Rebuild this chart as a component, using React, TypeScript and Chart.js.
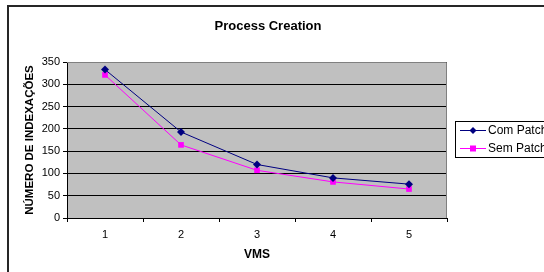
import React, { useEffect, useRef } from "react";
import { Chart, registerables } from "chart.js";

Chart.register(...registerables);

const title = "Process Creation";
const categories = ["1", "2", "3", "4", "5"];
const comPatch = [333, 193, 120, 90, 76];
const semPatch = [321, 164, 107, 81, 65];
const seriesNames = ["Com Patch", "Sem Patch"];
const xTitle = "VMS";
const yTitle = "NÚMERO DE INDEXAÇÕES";
const yMin = 0;
const yMax = 350;
const yStep = 50;

const NAVY = "#000080";
const MAGENTA = "#FF00FF";
const FONT = "'Liberation Sans', Arial, sans-serif";

const decorPlugin = {
  id: "decor",
  beforeDraw(chart: any) {
    const { ctx, chartArea } = chart;
    ctx.save();
    ctx.fillStyle = "#ffffff";
    ctx.fillRect(0, 0, chart.width, chart.height);
    ctx.fillStyle = "#C0C0C0";
    ctx.fillRect(chartArea.left, chartArea.top, chartArea.right - chartArea.left, chartArea.bottom - chartArea.top);
    // outer frame
    ctx.strokeStyle = "#262626";
    ctx.lineWidth = 2;
    ctx.beginPath();
    ctx.moveTo(8, chart.height + 2);
    ctx.lineTo(8, 6);
    ctx.lineTo(chart.width + 2, 6);
    ctx.stroke();
    ctx.restore();
  },
  afterDatasetsDraw(chart: any) {
    const { ctx, chartArea } = chart;
    ctx.save();
    ctx.strokeStyle = "#808080";
    ctx.lineWidth = 1;
    ctx.beginPath();
    ctx.moveTo(chartArea.left, chartArea.top + 0.5);
    ctx.lineTo(chartArea.right - 0.5, chartArea.top + 0.5);
    ctx.lineTo(chartArea.right - 0.5, chartArea.bottom);
    ctx.stroke();
    ctx.restore();
  },
  afterDraw(chart: any) {
    const { ctx } = chart;
    ctx.save();
    const bx = 455.5, by = 121.5, bw = 120, bh = 36;
    ctx.fillStyle = "#ffffff";
    ctx.fillRect(bx, by, bw, bh);
    ctx.strokeStyle = "#000";
    ctx.lineWidth = 1;
    ctx.strokeRect(bx, by, bw, bh);
    const colors = [NAVY, MAGENTA];
    const rows = [130.5, 148.5];
    seriesNames.forEach((name, i) => {
      const y = rows[i];
      ctx.strokeStyle = colors[i];
      ctx.lineWidth = 1;
      ctx.beginPath();
      ctx.moveTo(460, y);
      ctx.lineTo(486, y);
      ctx.stroke();
      ctx.fillStyle = colors[i];
      const cx = 473;
      if (i === 0) {
        ctx.beginPath();
        ctx.moveTo(cx, y - 3.5);
        ctx.lineTo(cx + 3.5, y);
        ctx.lineTo(cx, y + 3.5);
        ctx.lineTo(cx - 3.5, y);
        ctx.closePath();
        ctx.fill();
      } else {
        ctx.fillRect(cx - 3, y - 3, 6, 6);
      }
      ctx.fillStyle = "#000";
      ctx.font = "12px " + FONT;
      ctx.textBaseline = "middle";
      ctx.textAlign = "left";
      ctx.fillText(name, 488, y);
    });
    ctx.restore();
  },
};

export default function App() {
  const ref = useRef<HTMLCanvasElement | null>(null);
  useEffect(() => {
    if (!ref.current) return;
    const chart = new Chart(ref.current, {
      type: "line",
      data: {
        labels: categories,
        datasets: [
          {
            label: seriesNames[0],
            data: comPatch,
            borderColor: NAVY,
            backgroundColor: NAVY,
            borderWidth: 1,
            pointStyle: "rectRot",
            pointRadius: 4,
            pointBorderWidth: 0,
            tension: 0,
            yAxisID: "y",
          },
          {
            label: seriesNames[1],
            data: semPatch,
            borderColor: MAGENTA,
            backgroundColor: MAGENTA,
            borderWidth: 1,
            pointStyle: "rect",
            pointRadius: 4,
            pointBorderWidth: 0,
            tension: 0,
            yAxisID: "y",
          },
        ],
      },
      options: {
        responsive: false,
        animation: false,
        devicePixelRatio: 1,
        layout: { padding: { left: 0, right: 8, top: 0, bottom: 0 } },
        plugins: {
          legend: { display: false },
          tooltip: { enabled: false },
          title: {
            display: true,
            text: title,
            color: "#000",
            font: { family: FONT, size: 13, weight: "bold" },
            padding: { top: 19, bottom: 27.4 },
          },
        },
        scales: {
          x: {
            type: "category",
            offset: true,
            grid: {
              display: true,
              drawOnChartArea: false,
              drawTicks: true,
              tickLength: 4,
              color: "#000",
              offset: true,
            },
            border: { display: true, color: "#000", width: 1 },
            ticks: {
              color: "#000",
              font: { family: FONT, size: 11 },
              padding: 6,
              maxRotation: 0,
            },
            title: {
              display: true,
              text: xTitle,
              color: "#000",
              font: { family: FONT, size: 12, weight: "bold" },
              padding: { top: 0, bottom: 10 },
            },
            afterFit(scale: any) {
              scale.height = 54;
            },
          },
          y: {
            type: "linear",
            position: "left",
            min: yMin,
            max: yMax,
            grid: {
              color: "#000",
              tickLength: 4,
              drawTicks: true,
            },
            border: { display: true, color: "#000", width: 1 },
            ticks: {
              stepSize: yStep,
              color: "#000",
              font: { family: FONT, size: 11 },
              padding: 3,
            },
            title: {
              display: true,
              text: yTitle,
              color: "#000",
              font: { family: FONT, size: 11.5, weight: "bold" },
              padding: { top: 23, bottom: 0 },
            },
            afterFit(scale: any) {
              scale.width = 67;
            },
          },
          yR: {
            type: "linear",
            position: "right",
            display: true,
            grid: { display: false, drawTicks: false },
            border: { display: false },
            ticks: { display: false },
            afterFit(scale: any) {
              scale.width = 89;
            },
          },
        },
      },
      plugins: [decorPlugin],
    });
    return () => chart.destroy();
  }, []);
  return (
    <div style={{ position: "absolute", left: 0, top: 0, width: 544, height: 272 }}>
      <canvas ref={ref} width={544} height={272} style={{ display: "block" }} />
    </div>
  );
}
